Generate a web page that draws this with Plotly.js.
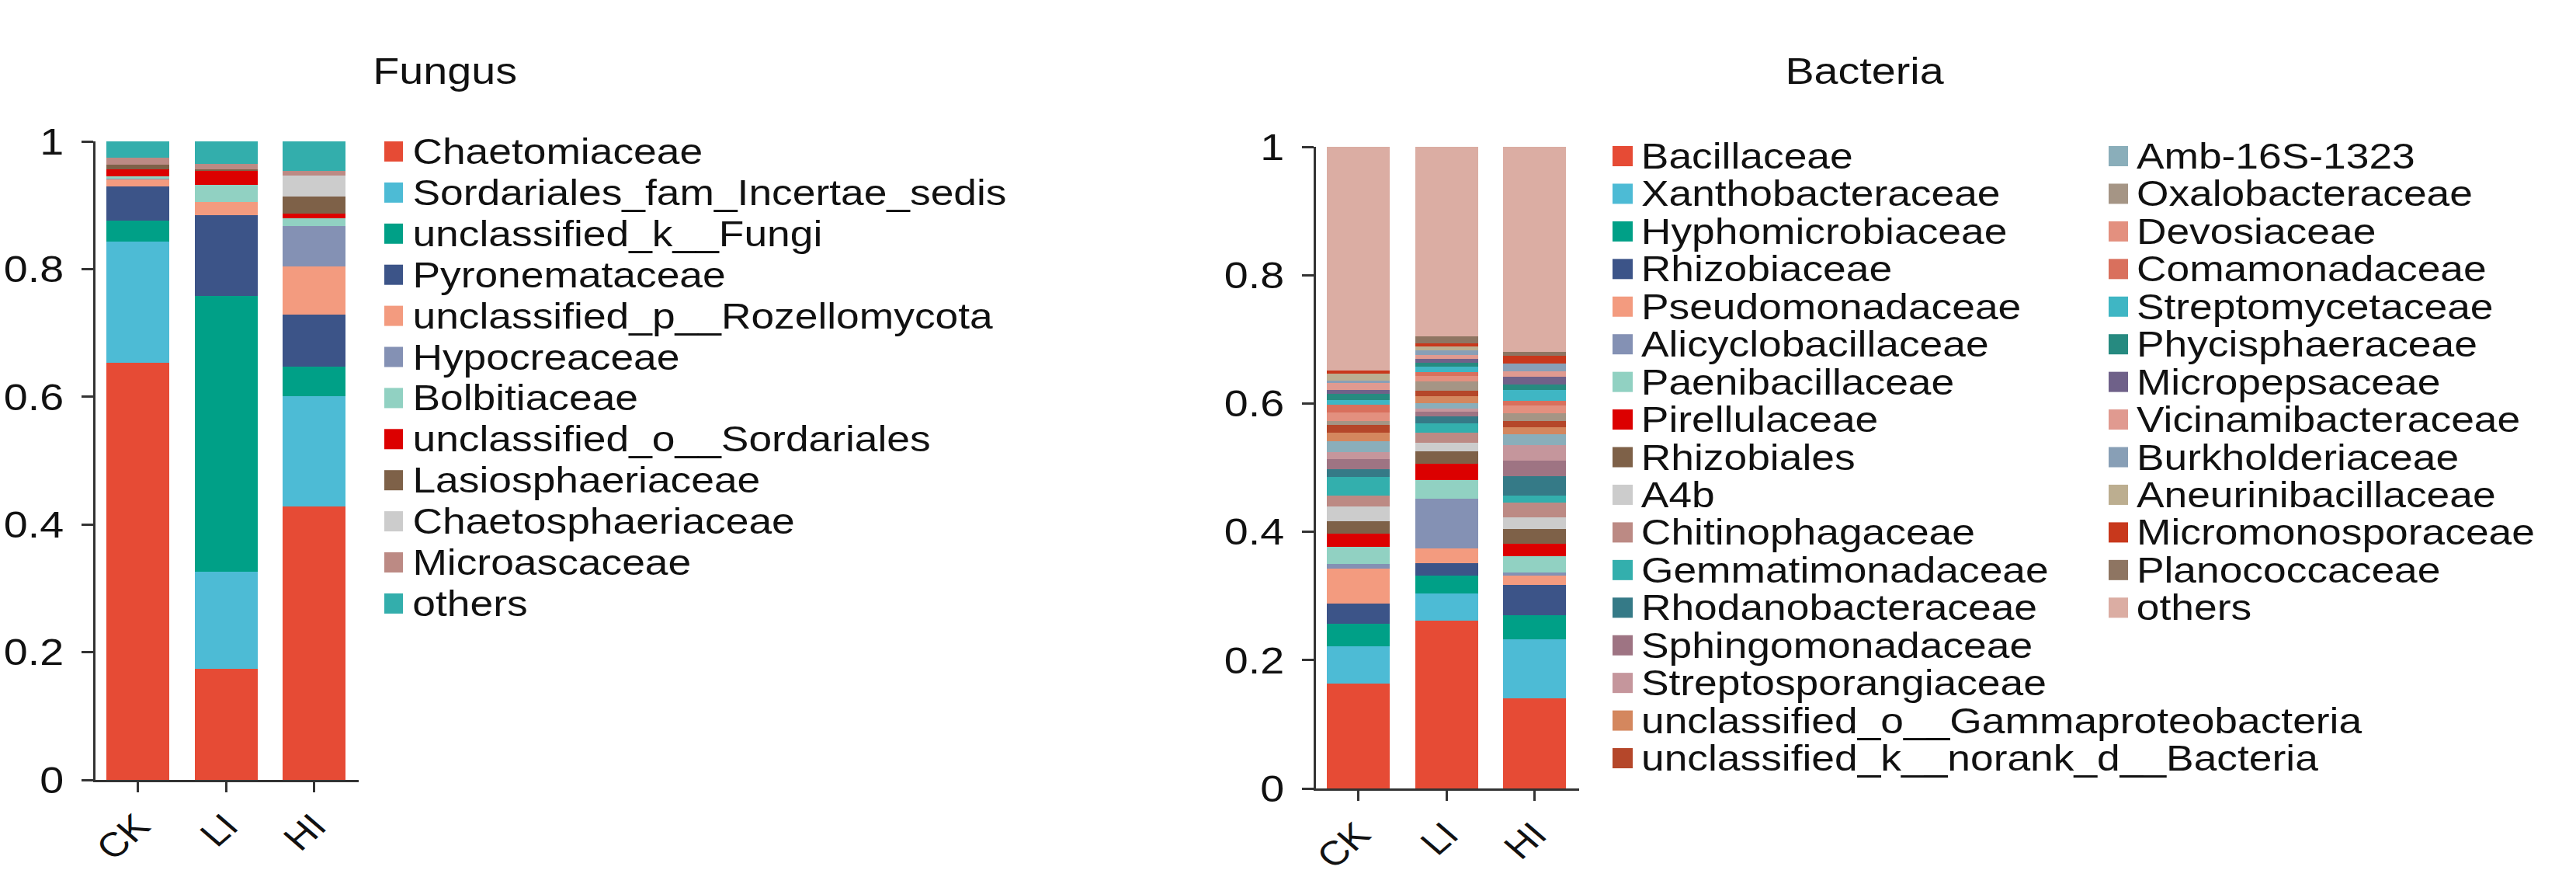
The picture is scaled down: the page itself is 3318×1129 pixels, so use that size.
<!DOCTYPE html>
<html>
<head>
<meta charset="utf-8">
<script src="https://cdn.plot.ly/plotly-3.0.1.min.js"></script>
<style>
  html, body { margin: 0; padding: 0; background: #ffffff; overflow: hidden; }
  #chart { width: 2860px; height: 1129px; transform-origin: 0 0; }
</style>
</head>
<body>
<div id="chart"></div>
<script>
// ---------------- data ----------------
const groups = ['CK', 'LI', 'HI'];

const fungusTaxa = [
  'Chaetomiaceae', 'Sordariales_fam_Incertae_sedis', 'unclassified_k__Fungi',
  'Pyronemataceae', 'unclassified_p__Rozellomycota', 'Hypocreaceae',
  'Bolbitiaceae', 'unclassified_o__Sordariales', 'Lasiosphaeriaceae',
  'Chaetosphaeriaceae', 'Microascaceae', 'others'
];
const fungusColors = [
  '#E64B35', '#4DBBD5', '#00A087', '#3C5488', '#F39B7F', '#8491B4',
  '#91D1C2', '#DC0000', '#7E6148', '#CCCCCC', '#BC8A84', '#33AEAC'
];
const fungusCK = [0.653, 0.190, 0.033, 0.053, 0.012, 0.001, 0.003, 0.011, 0.007, 0.001, 0.010, 0.026];
const fungusLI = [0.174, 0.152, 0.432, 0.127, 0.020, 0.000, 0.027, 0.022, 0.002, 0.000, 0.009, 0.035];
const fungusHI = [0.428, 0.173, 0.046, 0.082, 0.075, 0.063, 0.013, 0.007, 0.027, 0.033, 0.007, 0.046];

const bacteriaTaxa = [
  'Bacillaceae', 'Xanthobacteraceae', 'Hyphomicrobiaceae', 'Rhizobiaceae',
  'Pseudomonadaceae', 'Alicyclobacillaceae', 'Paenibacillaceae', 'Pirellulaceae',
  'Rhizobiales', 'A4b', 'Chitinophagaceae', 'Gemmatimonadaceae',
  'Rhodanobacteraceae', 'Sphingomonadaceae', 'Streptosporangiaceae',
  'unclassified_o__Gammaproteobacteria', 'unclassified_k__norank_d__Bacteria',
  'Amb-16S-1323', 'Oxalobacteraceae', 'Devosiaceae', 'Comamonadaceae',
  'Streptomycetaceae', 'Phycisphaeraceae', 'Micropepsaceae', 'Vicinamibacteraceae',
  'Burkholderiaceae', 'Aneurinibacillaceae', 'Micromonosporaceae', 'Planococcaceae',
  'others'
];
const bacteriaColors = [
  '#E64B35', '#4DBBD5', '#00A087', '#3C5488', '#F39B7F', '#8491B4',
  '#91D1C2', '#DC0000', '#7E6148', '#CCCCCC', '#BC8A84', '#33AFAD',
  '#357A87', '#9E7483', '#C5969C', '#D4875E', '#B5472A',
  '#8AAEBA', '#A59585', '#E3907F', '#D9705D', '#3FB6C4', '#268A80',
  '#6F6189', '#E09A90', '#889FB6', '#BCAE90', '#C8381C', '#8E7562', '#DBADA3'
];
const bacteriaCK = [0.163, 0.059, 0.035, 0.031, 0.055, 0.007, 0.027, 0.020, 0.020, 0.023,
                    0.017, 0.029, 0.011, 0.016, 0.011, 0.014, 0.012, 0.017, 0.006, 0.013,
                    0.012, 0.007, 0.010, 0.006, 0.011, 0.004, 0.010, 0.005, 0.000, 0.349];
const bacteriaLI = [0.262, 0.042, 0.028, 0.019, 0.023, 0.077, 0.030, 0.025, 0.019, 0.014,
                    0.016, 0.014, 0.011, 0.007, 0.005, 0.010, 0.009, 0.009, 0.014, 0.009,
                    0.006, 0.008, 0.006, 0.006, 0.007, 0.007, 0.006, 0.005, 0.011, 0.295];
const bacteriaHI = [0.141, 0.091, 0.038, 0.047, 0.015, 0.004, 0.026, 0.019, 0.023, 0.019,
                    0.023, 0.011, 0.030, 0.024, 0.024, 0.011, 0.010, 0.017, 0.012, 0.012,
                    0.007, 0.017, 0.009, 0.012, 0.008, 0.012, 0.000, 0.012, 0.006, 0.320];
// bottom-to-top stacking of the bacterial families
const bacteriaStack = [
  'Bacillaceae', 'Xanthobacteraceae', 'Hyphomicrobiaceae', 'Rhizobiaceae',
  'Pseudomonadaceae', 'Alicyclobacillaceae', 'Paenibacillaceae', 'Pirellulaceae',
  'Rhizobiales', 'A4b', 'Chitinophagaceae', 'Gemmatimonadaceae',
  'Rhodanobacteraceae', 'Sphingomonadaceae', 'Streptosporangiaceae', 'Amb-16S-1323',
  'unclassified_o__Gammaproteobacteria', 'unclassified_k__norank_d__Bacteria',
  'Oxalobacteraceae', 'Devosiaceae', 'Comamonadaceae', 'Streptomycetaceae',
  'Phycisphaeraceae', 'Micropepsaceae', 'Vicinamibacteraceae', 'Burkholderiaceae',
  'Aneurinibacillaceae', 'Micromonosporaceae', 'Planococcaceae', 'others'
];

const yTickVals = [0, 0.2, 0.4, 0.6, 0.8, 1];
const yTickText = ['0', '0.2', '0.4', '0.6', '0.8', '1'];

// ---------------- geometry ----------------
const PAGE_W = 3318, PAGE_H = 1129, PLOT_W = 2860;
const STRETCH = PAGE_W / PLOT_W;
document.getElementById('chart').style.transform = 'scaleX(' + STRETCH + ')';
const px = x => x / PAGE_W;          // page pixel -> paper fraction (x)
const py = y => 1 - y / PAGE_H;      // page pixel -> paper fraction (y)

const FONT = 'Liberation Sans, Arial, Helvetica, sans-serif';
const AX = '#333333';
const YTICK_SIZE = 48, XTICK_SIZE = 44, LEGEND_SIZE = 46, TITLE_SIZE = 48;

// ---------------- traces ----------------
const traces = [];
fungusTaxa.forEach((name, i) => {
  traces.push({
    type: 'bar', name: name, x: groups,
    y: [fungusCK[i], fungusLI[i], fungusHI[i]],
    marker: { color: fungusColors[i], line: { width: 0 } },
    xaxis: 'x', yaxis: 'y', showlegend: false, hoverinfo: 'name+y'
  });
});
bacteriaStack.forEach(name => {
  const i = bacteriaTaxa.indexOf(name);
  traces.push({
    type: 'bar', name: name, x: groups,
    y: [bacteriaCK[i], bacteriaLI[i], bacteriaHI[i]],
    marker: { color: bacteriaColors[i], line: { width: 0 } },
    xaxis: 'x2', yaxis: 'y2', showlegend: false, hoverinfo: 'name+y'
  });
});

// ---------------- axes ----------------
function xAxis(domain, anchor) {
  return {
    domain: domain, anchor: anchor, type: 'category', range: [-0.483, 2.503],
    showline: true, linecolor: AX, linewidth: 3,
    ticks: 'outside', ticklen: 13, tickwidth: 2.6, tickcolor: AX,
    tickangle: -45, tickfont: { family: FONT, size: XTICK_SIZE, color: '#111' },
    ticklabelstandoff: 0,
    showgrid: false, zeroline: false, fixedrange: true
  };
}
function yAxis(domain, anchor) {
  return {
    domain: domain, anchor: anchor, range: [0, 1],
    tickmode: 'array', tickvals: yTickVals, ticktext: yTickText,
    showline: true, linecolor: AX, linewidth: 2.6,
    ticks: 'outside', ticklen: 13, tickwidth: 3, tickcolor: AX,
    tickfont: { family: FONT, size: YTICK_SIZE, color: '#111' },
    ticklabelstandoff: 10,
    showgrid: false, zeroline: false, fixedrange: true
  };
}

// ---------------- legends (drawn as squares + labels) ----------------
const annotations = [];
const shapes = [];
function legendColumn(names, colors, sqX0, sqX1, textX, firstY, step) {
  names.forEach((name, k) => {
    const cy = firstY + k * step;
    shapes.push({
      type: 'rect', xref: 'paper', yref: 'paper',
      x0: px(sqX0), x1: px(sqX1), y0: py(cy + 13), y1: py(cy - 13),
      fillcolor: colors[k], line: { width: 0 }
    });
    annotations.push({
      xref: 'paper', yref: 'paper', x: px(textX), y: py(cy),
      xanchor: 'left', yanchor: 'middle', showarrow: false, text: name,
      font: { family: FONT, size: LEGEND_SIZE, color: '#111' }
    });
  });
}
legendColumn(fungusTaxa, fungusColors, 495, 519, 529, 195, 52.9);
legendColumn(bacteriaTaxa.slice(0, 17), bacteriaColors.slice(0, 17), 2077, 2103, 2112, 201, 48.44);
legendColumn(bacteriaTaxa.slice(17), bacteriaColors.slice(17), 2716, 2741, 2750, 201, 48.44);

// panel titles
annotations.push({
  xref: 'paper', yref: 'paper', x: px(573), y: py(91), xanchor: 'center', yanchor: 'middle',
  showarrow: false, text: 'Fungus', font: { family: FONT, size: TITLE_SIZE, color: '#111' }
});
annotations.push({
  xref: 'paper', yref: 'paper', x: px(2402), y: py(91), xanchor: 'center', yanchor: 'middle',
  showarrow: false, text: 'Bacteria', font: { family: FONT, size: TITLE_SIZE, color: '#111' }
});

const layout = {
  width: PLOT_W, height: PAGE_H,
  margin: { l: 0, r: 0, t: 0, b: 0, pad: 0 },
  paper_bgcolor: '#ffffff', plot_bgcolor: 'rgba(0,0,0,0)',
  barmode: 'stack', bargap: 0.286, showlegend: false,
  font: { family: FONT, color: '#111' },
  xaxis: xAxis([px(123), px(462)], 'y'),
  yaxis: yAxis([py(1004), py(182)], 'x'),
  xaxis2: xAxis([px(1695), px(2034)], 'y2'),
  yaxis2: yAxis([py(1015), py(189)], 'x2'),
  annotations: annotations,
  shapes: shapes
};

Plotly.newPlot('chart', traces, layout, { displayModeBar: false, staticPlot: true });
</script>
</body>
</html>
